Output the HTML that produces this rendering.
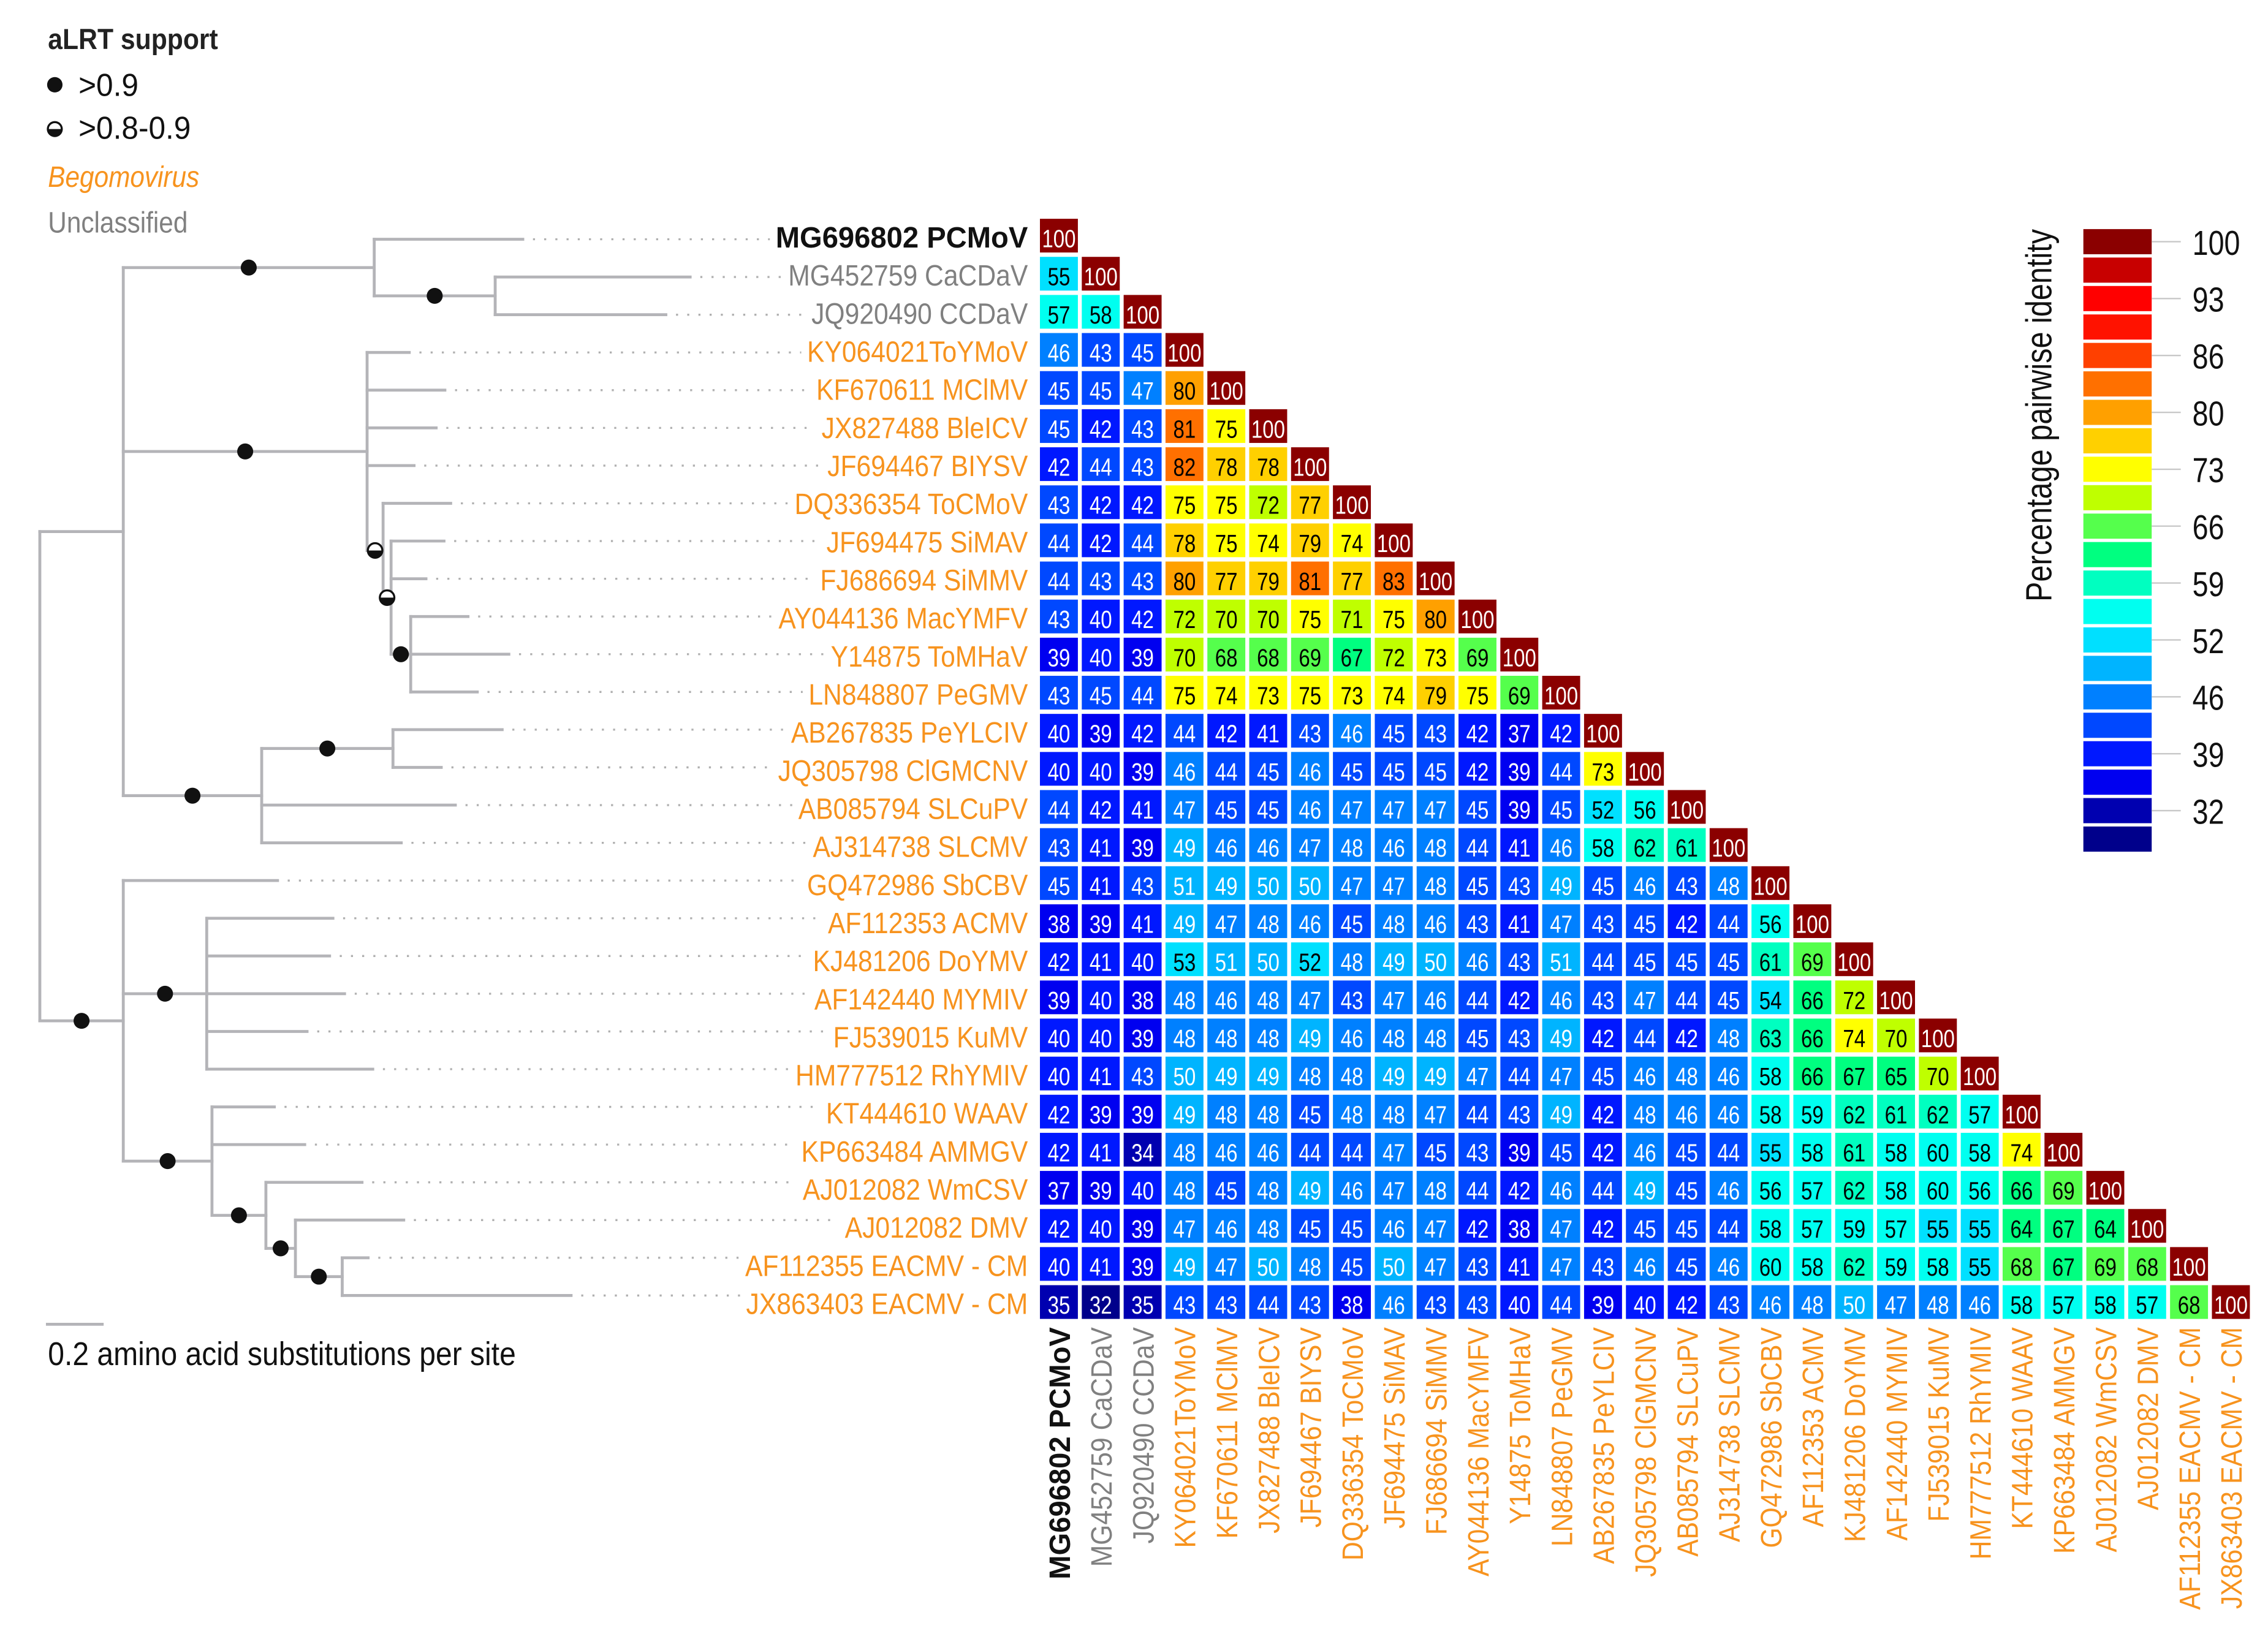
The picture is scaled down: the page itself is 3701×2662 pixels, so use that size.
<!DOCTYPE html>
<html>
<head>
<meta charset="utf-8">
<style>
html,body{margin:0;padding:0;background:#fff;}
svg{display:block;font-family:"Liberation Sans",Arial,sans-serif;}
</style>
</head>
<body>
<svg id="fig" xmlns="http://www.w3.org/2000/svg" width="3701" height="2662" viewBox="0 0 1560 1122" preserveAspectRatio="none">
  <rect x="0" y="0" width="1560" height="1122" fill="#fff"/>
  <g id="legend">
    <text transform="translate(33,33.7) scale(0.9,1)" font-size="20" font-weight="bold" fill="#222">aLRT support</text>
    <circle cx="37.7" cy="58.3" r="5.3" fill="#111"/>
    <text transform="translate(54,66) scale(0.95,1)" font-size="22" fill="#111">&gt;0.9</text>
    <g>
      <circle cx="37.7" cy="88.8" r="4.8" fill="#fff" stroke="#111" stroke-width="1.4"/>
      <path d="M32.9 88.8 A4.8 4.8 0 0 0 42.5 88.8 Z" fill="#111"/>
    </g>
    <text transform="translate(54,95.5) scale(0.95,1)" font-size="22" fill="#111">&gt;0.8-0.9</text>
    <text transform="translate(33,128.6) scale(0.87,1)" font-size="20.5" font-style="italic" fill="#f7931e">Begomovirus</text>
    <text transform="translate(33,160) scale(0.87,1)" font-size="20.5" fill="#808080">Unclassified</text>
  </g>
  <g id="scalebar">
    <line x1="31.6" y1="911" x2="71.3" y2="911" stroke="#b4b4b8" stroke-width="2"/>
    <text transform="translate(33,939) scale(0.9,1)" font-size="22.5" fill="#111">0.2 amino acid substitutions per site</text>
  </g>
  <g id="tree"></g>
  <g id="rowlabels"></g>
  <g id="matrix"></g>
  <g id="collabels"></g>
  <g id="colorbar">
    <text transform="translate(1411,157.6) rotate(-90) scale(0.82,1)" text-anchor="end" font-size="25" fill="#111">Percentage pairwise identity</text>
  </g>
</svg>
<script>
// ---- data ----
const labels = ["MG696802 PCMoV","MG452759 CaCDaV","JQ920490 CCDaV","KY064021ToYMoV","KF670611 MClMV","JX827488 BleICV","JF694467 BIYSV","DQ336354 ToCMoV","JF694475 SiMAV","FJ686694 SiMMV","AY044136 MacYMFV","Y14875 ToMHaV","LN848807 PeGMV","AB267835 PeYLCIV","JQ305798 ClGMCNV","AB085794 SLCuPV","AJ314738 SLCMV","GQ472986 SbCBV","AF112353 ACMV","KJ481206 DoYMV","AF142440 MYMIV","FJ539015 KuMV","HM777512 RhYMIV","KT444610 WAAV","KP663484 AMMGV","AJ012082 WmCSV","AJ012082 DMV","AF112355 EACMV - CM","JX863403 EACMV - CM"];
const groups = ["new","unc","unc","beg","beg","beg","beg","beg","beg","beg","beg","beg","beg","beg","beg","beg","beg","beg","beg","beg","beg","beg","beg","beg","beg","beg","beg","beg","beg"];
const identity = [
[100],
[55,100],
[57,58,100],
[46,43,45,100],
[45,45,47,80,100],
[45,42,43,81,75,100],
[42,44,43,82,78,78,100],
[43,42,42,75,75,72,77,100],
[44,42,44,78,75,74,79,74,100],
[44,43,43,80,77,79,81,77,83,100],
[43,40,42,72,70,70,75,71,75,80,100],
[39,40,39,70,68,68,69,67,72,73,69,100],
[43,45,44,75,74,73,75,73,74,79,75,69,100],
[40,39,42,44,42,41,43,46,45,43,42,37,42,100],
[40,40,39,46,44,45,46,45,45,45,42,39,44,73,100],
[44,42,41,47,45,45,46,47,47,47,45,39,45,52,56,100],
[43,41,39,49,46,46,47,48,46,48,44,41,46,58,62,61,100],
[45,41,43,51,49,50,50,47,47,48,45,43,49,45,46,43,48,100],
[38,39,41,49,47,48,46,45,48,46,43,41,47,43,45,42,44,56,100],
[42,41,40,53,51,50,52,48,49,50,46,43,51,44,45,45,45,61,69,100],
[39,40,38,48,46,48,47,43,47,46,44,42,46,43,47,44,45,54,66,72,100],
[40,40,39,48,48,48,49,46,48,48,45,43,49,42,44,42,48,63,66,74,70,100],
[40,41,43,50,49,49,48,48,49,49,47,44,47,45,46,48,46,58,66,67,65,70,100],
[42,39,39,49,48,48,45,48,48,47,44,43,49,42,48,46,46,58,59,62,61,62,57,100],
[42,41,34,48,46,46,44,44,47,45,43,39,45,42,46,45,44,55,58,61,58,60,58,74,100],
[37,39,40,48,45,48,49,46,47,48,44,42,46,44,49,45,46,56,57,62,58,60,56,66,69,100],
[42,40,39,47,46,48,45,45,46,47,42,38,47,42,45,45,44,58,57,59,57,55,55,64,67,64,100],
[40,41,39,49,47,50,48,45,50,47,43,41,47,43,46,45,46,60,58,62,59,58,55,68,67,69,68,100],
[35,32,35,43,43,44,43,38,46,43,43,40,44,39,40,42,43,46,48,50,47,48,46,58,57,58,57,68,100]
];
const colorTicks = [100,93,86,80,73,66,59,52,46,39,32];
const bandColors = ["#8b0000","#c80000","#ff0000","#ff1200","#ff4000","#ff7000","#ffa000","#ffd000","#ffff00","#bfff00","#55ff4c","#00ff80","#00ffc0","#00fff0","#00e0ff","#00b4ff","#0080ff","#0048ff","#0018ff","#0000f0","#0000b0","#00008b"];
const bandMin = [100,97,93,90,86,81,79.5,76,73,70,68,64,61,56,52,48.5,46,43,40,37,33.5,0];
// tree topology with branch tip x positions (scaled substitution distances)
const tree = {x:27.4, ch:[
  {x:84.8, ch:[
    {x:257.4, dot:"full", ch:[{leaf:0,tip:359.6},{x:340.6,dot:"full",ch:[{leaf:1,tip:474.7},{leaf:2,tip:458}]}]},
    {x:252.5, dot:"full", ch:[{leaf:3,tip:281.5},{leaf:4,tip:306},{leaf:5,tip:300},{leaf:6,tip:284.8},
      {x:263.5, dot:"half", ch:[{leaf:7,tip:310},
        {x:269, dot:"half", ch:[{leaf:8,tip:305.4},{leaf:9,tip:293},
          {x:282.5, dot:"full", ch:[{leaf:10,tip:321.9},{leaf:11,tip:350},{leaf:12,tip:328.3}]}]}]}]},
    {x:180, dot:"full", ch:[{x:270.3,dot:"full",ch:[{leaf:13,tip:345.4},{leaf:14,tip:303.5}]},{leaf:15,tip:313.2},{leaf:16,tip:276}]}
  ]},
  {x:84.8, dot:"full", ch:[
    {leaf:17,tip:190.9},
    {x:142.2, dot:"full", ch:[{leaf:18,tip:229},{leaf:19,tip:226.7},{leaf:20,tip:237},{leaf:21,tip:211.2},{leaf:22,tip:256.4}]},
    {x:145.8, dot:"full", ch:[{leaf:23,tip:188.7},{leaf:24,tip:209.6},
      {x:182.9, dot:"full", ch:[{leaf:25,tip:249},
        {x:203.2, dot:"full", ch:[{leaf:26,tip:277.7},
          {x:235.4, dot:"full", ch:[{leaf:27,tip:253.2},{leaf:28,tip:392.8}]}]}]}]}
  ]}
]};

// ---- layout ----
const NS = "http://www.w3.org/2000/svg";
const X0 = 715.3, CSTEP = 28.79, CW = 26.1;
const Y0 = 150.5, RSTEP = 26.2, CH = 23.2;
const NARROW = 0.82;
const LBL = 0.877, LBLB = 0.97;
const LINE = "#b4b4b8";
const colX = c => X0 + c * CSTEP;
const rowY = r => Y0 + r * RSTEP;
const leafY = i => 164.6 + 25.95 * i;
const band = v => { for (let k = 0; k < bandMin.length; k++) { if (v >= bandMin[k]) return k; } return bandMin.length - 1; };
const groupColor = g => g === "new" ? "#111" : (g === "unc" ? "#808080" : "#f7931e");

function el(tag, parent) { const e = document.createElementNS(NS, tag); parent.appendChild(e); return e; }

const gM = document.getElementById("matrix");
const gR = document.getElementById("rowlabels");
const gC = document.getElementById("collabels");
const gT = document.getElementById("tree");
const gB = document.getElementById("colorbar");

// heatmap
identity.forEach((row, r) => {
  row.forEach((v, c) => {
    const b = band(v);
    const rc = el("rect", gM);
    
    
    rc.setAttribute("x", colX(c)); rc.setAttribute("y", rowY(r));
    rc.setAttribute("width", CW); rc.setAttribute("height", CH);
    rc.setAttribute("fill", bandColors[b]);
    const t = el("text", gM);
    
    
    t.setAttribute("transform", `translate(${colX(c) + CW / 2},${rowY(r) + 19.6}) scale(${NARROW},1)`);
    t.setAttribute("text-anchor", "middle");
    t.setAttribute("font-size", "17");
    t.setAttribute("fill", (b === 0 || b >= 15) ? "#fff" : "#000");
    t.textContent = v;
  });
});

// row + column labels
const labelLeft = [];
labels.forEach((name, i) => {
  const sc = groups[i] === "new" ? LBLB : LBL;
  const t = el("text", gR);
  
  
  t.setAttribute("transform", `translate(707,${rowY(i) + 19.8}) scale(${sc},1)`);
  t.setAttribute("text-anchor", "end");
  t.setAttribute("font-size", "20.5");
  t.setAttribute("fill", groupColor(groups[i]));
  if (groups[i] === "new") t.setAttribute("font-weight", "bold");
  t.textContent = name;
  let w = 0;
  try { w = t.getComputedTextLength() * sc; } catch (e) { w = name.length * 9; }
  labelLeft.push(707 - w);

  const c = el("text", gC);
  
  
  c.setAttribute("transform", `translate(${colX(i) + CW / 2 + 7.5},913) rotate(-90) scale(${sc},1)`);
  c.setAttribute("text-anchor", "end");
  c.setAttribute("font-size", "20.5");
  c.setAttribute("fill", groupColor(groups[i]));
  if (groups[i] === "new") c.setAttribute("font-weight", "bold");
  c.textContent = name;
});

// tree
function computeY(n) {
  if (n.leaf !== undefined) { n.y = leafY(n.leaf); return n.y; }
  n.ch.forEach(computeY);
  n.y = (n.ch[0].y + n.ch[n.ch.length - 1].y) / 2;
  return n.y;
}
computeY(tree);
function seg(x1, y1, x2, y2, name) {
  const l = el("line", gT);
  
  
  l.setAttribute("x1", x1); l.setAttribute("y1", y1);
  l.setAttribute("x2", x2); l.setAttribute("y2", y2);
  l.setAttribute("stroke", LINE); l.setAttribute("stroke-width", "2");
  l.setAttribute("stroke-linecap", "square");
}
const dots = [];
function drawNode(n) {
  seg(n.x, n.ch[0].y, n.x, n.ch[n.ch.length - 1].y, "tree-node-vertical");
  n.ch.forEach(ch => {
    const endX = ch.leaf !== undefined ? ch.tip : ch.x;
    seg(n.x, ch.y, endX, ch.y, "tree-branch");
    if (ch.leaf !== undefined) {
      const d = el("line", gT);
      
      
      d.setAttribute("x1", ch.tip + 7); d.setAttribute("y1", ch.y);
      d.setAttribute("x2", labelLeft[ch.leaf] - 4); d.setAttribute("y2", ch.y);
      d.setAttribute("stroke", "#b0b0b0"); d.setAttribute("stroke-width", "1.4");
      d.setAttribute("stroke-dasharray", "1.4 6.3");
    } else {
      if (ch.dot) dots.push({x: (n.x + ch.x) / 2, y: ch.y, type: ch.dot});
      drawNode(ch);
    }
  });
}
drawNode(tree);
dots.forEach(d => {
  if (d.type === "full") {
    const c = el("circle", gT);
    
    
    c.setAttribute("cx", d.x); c.setAttribute("cy", d.y); c.setAttribute("r", "5.5");
    c.setAttribute("fill", "#111");
  } else {
    const c = el("circle", gT);
    
    
    c.setAttribute("cx", d.x); c.setAttribute("cy", d.y); c.setAttribute("r", "5");
    c.setAttribute("fill", "#fff"); c.setAttribute("stroke", "#111"); c.setAttribute("stroke-width", "1.4");
    const p = el("path", gT);
    
    
    p.setAttribute("d", `M${d.x - 5} ${d.y} A5 5 0 0 0 ${d.x + 5} ${d.y} Z`);
    p.setAttribute("fill", "#111");
  }
});

// colorbar
const CB_X = 1433, CB_W = 47, CB_Y = 157.6, CB_STEP = 19.57, CB_H = 17.3;
bandColors.forEach((col, k) => {
  const r = el("rect", gB);
  
  
  r.setAttribute("x", CB_X); r.setAttribute("y", CB_Y + k * CB_STEP);
  r.setAttribute("width", CB_W); r.setAttribute("height", CB_H);
  r.setAttribute("fill", col);
});
colorTicks.forEach((v, i) => {
  const k = i * 2;
  const cy = CB_Y + k * CB_STEP + CB_H / 2;
  const l = el("line", gB);
  
  
  l.setAttribute("x1", CB_X + CB_W); l.setAttribute("x2", 1500);
  l.setAttribute("y1", cy); l.setAttribute("y2", cy);
  l.setAttribute("stroke", "#c8c8c8"); l.setAttribute("stroke-width", "1");
  const t = el("text", gB);
  
  
  t.setAttribute("transform", `translate(1508,${cy + 9}) scale(${NARROW},1)`);
  t.setAttribute("font-size", "24");
  t.setAttribute("fill", "#111");
  t.textContent = v;
});
</script>
</body>
</html>
